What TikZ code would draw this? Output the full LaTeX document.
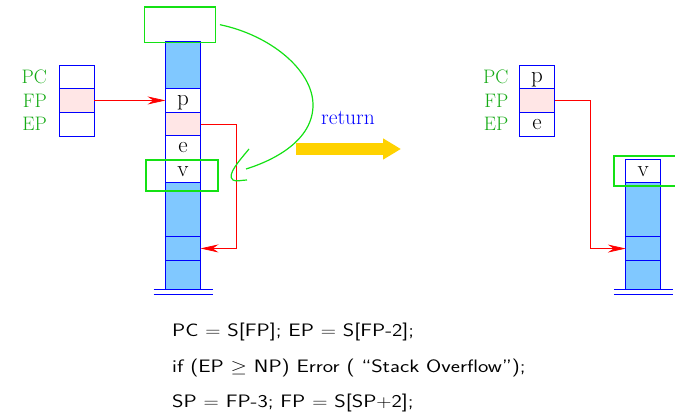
\documentclass[tikz,border=0pt]{standalone}
\usepackage{amsmath,amssymb}
\usepackage{fontspec}
\usetikzlibrary{positioning,arrows.meta}
\definecolor{stackblue}{RGB}{128,200,255}
\definecolor{linkpink}{RGB}{255,230,230}
\definecolor{framegreen}{RGB}{20,225,20}
\definecolor{labgreen}{RGB}{20,170,20}
\definecolor{retgold}{RGB}{255,210,0}
\newcommand{\codeline}[1]{\scalebox{1.22}[1]{#1}}

\begin{document}
\begin{tikzpicture}[
  x=1pt, y=-1pt,
  node distance=0pt,
  cell/.style={draw=blue, line width=0.8pt, minimum width=35pt, minimum height=23.5pt,
               inner sep=0pt, outer sep=0pt, text height=14pt, text depth=3pt,
               font=\fontsize{23}{23}\selectfont},
  used/.style={fill=stackblue},
  link/.style={fill=linkpink},
  reg/.style={font=\fontsize{19.5}{19.5}\selectfont, text=labgreen, inner sep=0pt},
  frame/.style={draw=framegreen, line width=1.8pt, inner sep=0pt},
  ptr/.style={draw=red, line width=0.7pt, -{Stealth[length=18pt,width=8pt]}},
  ground/.style={draw=blue, line width=0.8pt},
  code/.style={font=\sffamily\fontsize{18}{18}\selectfont, inner sep=0pt, anchor=base west},
]
  \useasboundingbox (0,0) rectangle (675,414);
  \clip (0,0) rectangle (675,414);

  % Stack before return
  \node[cell, used, minimum height=47pt] (top) at (183,65.2) {};
  \node[cell, below=of top] (sp) {p};
  \node[cell, link, below=of sp] (sfp) {};
  \node[cell, below=of sfp] (se) {e};
  \node[cell, below=of se] (sv) {v};
  \node[cell, used, minimum height=54pt, below=of sv] (slow) {};
  \node[cell, used, below=of slow] (sa) {};
  \node[cell, used, minimum height=29pt, below=of sa] (sb) {};
  \draw[ground] ([xshift=-12pt]sb.south west) -- ([xshift=12pt]sb.south east);
  \draw[ground] ([xshift=-12pt,yshift=-5pt]sb.south west) -- ([xshift=12pt,yshift=-5pt]sb.south east);

  % Registers before return
  \node[cell, minimum height=23.7pt] (pc) at (76.5,76.85) {};
  \node[cell, link, minimum height=23.7pt, below=of pc] (fp) {};
  \node[cell, minimum height=23.7pt, below=of fp] (ep) {};
  \node[reg, left=12pt of pc] {PC};
  \node[reg, left=12pt of fp] {FP};
  \node[reg, left=12pt of ep] {EP};

  % Frames
  \node[frame, minimum width=71pt, minimum height=35.5pt] (oldtop) at (180,24.7) {};
  \node[frame, minimum width=72pt, minimum height=31pt] (oldv) at (182,175.5) {};

  % Pointers
  \draw[ptr] (fp.east) -- (sp.west);
  \draw[ptr] (sfp.east) -- ++(36,0) |- (sa.east);

  % Green hand-drawn move
  \coordinate (tip) at (246,169);
  \draw[framegreen, line width=1.2pt] ([xshift=3.5pt]oldtop.east)
    .. controls (270,35) and (313,70) .. (313,105)
    .. controls (313,140) and (275,160) .. (tip);
  \draw[framegreen, line width=1.2pt] (249,149)
    .. controls (240,160) and (226,175) .. (233,180)
    .. controls (236,182) and (242,180) .. (247,180);

  % Return
  \node[text=blue, font=\fontsize{21.5}{21.5}\selectfont, inner sep=0pt, anchor=base] (ret) at (348,125) {return};
  \coordinate (ya) at (296,149);
  \coordinate (yb) at (401,149);
  \draw[retgold, line width=12pt, -{Triangle[length=18pt,width=20pt]}] (ya) -- (yb);

  % Registers after return
  \node[cell, minimum height=23.7pt] (npc) at (537,76.85) {p};
  \node[cell, link, minimum height=23.7pt, below=of npc] (nfp) {};
  \node[cell, minimum height=23.7pt, below=of nfp] (nep) {e};
  \node[reg, left=11pt of npc] {PC};
  \node[reg, left=11pt of nfp] {FP};
  \node[reg, left=11pt of nep] {EP};

  % Stack after return
  \node[cell] (nv) at (643.3,171.05) {v};
  \node[cell, used, minimum height=54pt, below=of nv] (nlow) {};
  \node[cell, used, below=of nlow] (na) {};
  \node[cell, used, minimum height=29pt, below=of na] (nb) {};
  \draw[ground] ([xshift=-12pt]nb.south west) -- ([xshift=12pt]nb.south east);
  \draw[ground] ([xshift=-12pt,yshift=-5pt]nb.south west) -- ([xshift=12pt,yshift=-5pt]nb.south east);
  \node[frame, minimum width=72pt, minimum height=30pt] (newv) at (650,171) {};
  \draw[ptr] (nfp.east) -- ++(35.5,0) |- (na.west);

  % Code
  \node[code] (l1) at (172,336.7) {\codeline{PC $=$ S[FP]; EP $=$ S[FP-2];}};
  \node[code] (l2) at (172,372.7) {\codeline{if (EP $\geq$ NP) Error ( ``Stack Overflow'');}};
  \node[code] (l3) at (172,407.3) {\codeline{SP $=$ FP-3; FP $=$ S[SP$+$2];}};
\end{tikzpicture}
\end{document}
